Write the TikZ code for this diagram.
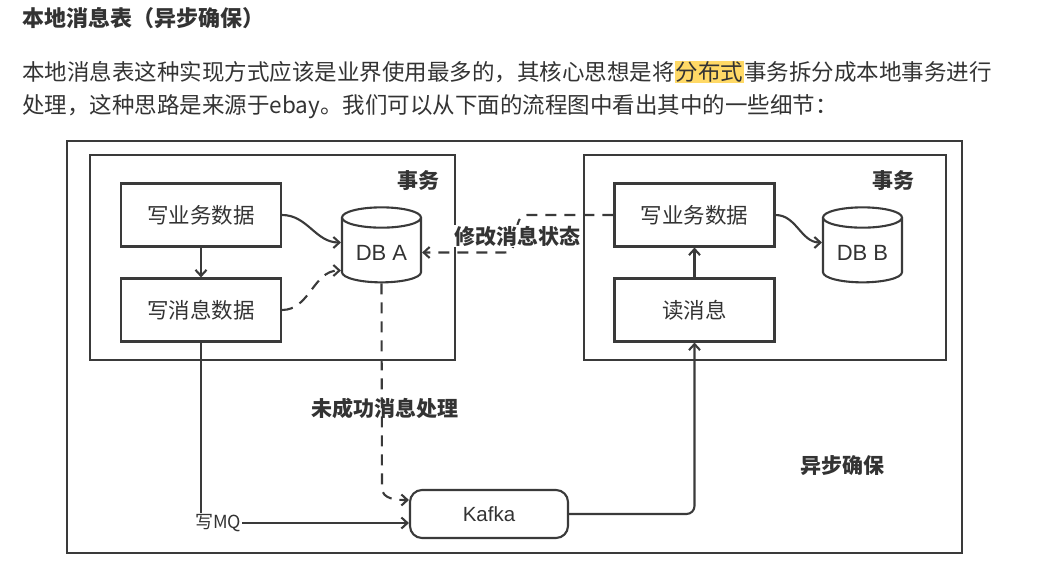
\documentclass[tikz,border=0pt]{standalone}
\usepackage{fontspec}
\setmainfont{Liberation Sans}
\newfontfamily\cjk{Noto Sans CJK SC}
\usetikzlibrary{shapes.geometric,arrows.meta}
\definecolor{inkgray}{HTML}{333333}
\definecolor{linegray}{HTML}{3A3A3A}
\definecolor{marker}{HTML}{FFD966}
\newlength{\TxLine}
\setlength{\TxLine}{2.1pt}
\tikzset{/tx/frame/.style={draw=linegray, line width=\TxLine}}
\tikzset{/tx/task/.style={
	shape=rectangle, draw=linegray, line width=\TxLine, minimum width=160pt, minimum height=63pt, text=inkgray, font=\cjk\fontsize{21.5}{21.5}\selectfont
}}
\tikzset{/tx/db/.style={
	shape=cylinder, shape border rotate=90, aspect=0.35, draw=linegray, line width=\TxLine, minimum width=79pt, minimum height=75pt, text=inkgray, font=\fontsize{22}{22}\selectfont
}}
\tikzset{/tx/queue/.style={
	shape=rectangle, rounded corners=12pt, draw=linegray, line width=\TxLine, minimum width=158pt, minimum height=48pt, text=inkgray, font=\fontsize{20.5}{20.5}\selectfont
}}
\tikzset{/tx/note/.style={text=inkgray, inner sep=1pt, font=\cjk\bfseries\fontsize{21}{21}\selectfont}}
\tikzset{/tx/flow/.style={draw=linegray, line width=\TxLine, -{Straight Barb[length=6pt,width=11pt]}}}
\tikzset{/tx/async/.style={/tx/flow, dash pattern=on 11pt off 8pt}}

\begin{document}
\begin{tikzpicture}[x=1pt, y=-1pt]
	\useasboundingbox (0,0) rectangle (1038,575);
	\path node[anchor=west, inner sep=0pt, text=inkgray, font=\cjk\bfseries\fontsize{22}{22}\selectfont] (title) at (22,18) {本地消息表（异步确保）};
	\path node[anchor=west, inner sep=0pt, text=inkgray, font=\cjk\fontsize{22.5}{22.5}\selectfont] (line1) at (22,72) {本地消息表这种实现方式应该是业界使用最多的，其核心思想是将{\fboxsep=1pt\colorbox{marker}{分布式}}事务拆分成本地事务进行};
	\path node[anchor=west, inner sep=0pt, text=inkgray, font=\cjk\fontsize{22.5}{22.5}\selectfont] (line2) at (22,107) {处理，这种思路是来源于ebay。我们可以从下面的流程图中看出其中的一些细节：};

	\draw[/tx/frame] (67,141) rectangle (962,553);
	\draw[/tx/frame] (90,155) rectangle (455,360);
	\draw[/tx/frame] (584,155) rectangle (946,360);
	\path node[/tx/note] (txA) at (418,181) {事务};
	\path node[/tx/note] (txB) at (893,181) {事务};

	\path node[/tx/task] (bizA) at (201,215) {写业务数据};
	\path node[/tx/task] (msgA) at (201,310) {写消息数据};
	\path node[/tx/db] (dbA) at (381.5,252.5) {DB A};
	\path node[/tx/task] (bizB) at (694.5,215) {写业务数据};
	\path node[/tx/task] (readB) at (694.5,310) {读消息};
	\path node[/tx/db] (dbB) at (862.5,252.5) {DB B};
	\path node[/tx/queue] (kafka) at (489,514) {Kafka};
	\path node[inner sep=1pt, text=inkgray, font=\cjk\fontsize{18}{18}\selectfont] (mq) at (218,523) {写MQ};
	\coordinate (bend) at (505,252.5);

	\draw[/tx/flow] (bizA) -- (msgA);
	\draw[/tx/flow] (bizA.east) to[out=0, in=180] ([yshift=10pt]dbA.west);
	\draw[/tx/async] (msgA.east) to[out=0, in=180] ([yshift=-18pt]dbA.west);
	\draw[/tx/async] (bizB.west) -- (527,215) to[out=180, in=0] (bend) -- (dbA.east);
	\draw[/tx/async] (dbA.south) -- (382,488) to[out=270, in=180] ([yshift=14pt]kafka.west);
	\draw[draw=linegray, line width=\TxLine] (msgA.south) -- (msgA.south |- mq.north);
	\draw[/tx/flow] (mq.east) -- (mq.east -| kafka.west);
	\draw[/tx/flow, rounded corners=8pt] (kafka.east) -| (readB.south);
	\draw[/tx/flow] (readB) -- (bizB);
	\draw[/tx/flow] (bizB.east) to[out=0, in=180] ([yshift=10pt]dbB.west);

	\path node[/tx/note, fill=white] (status) at (517,236) {修改消息状态};
	\path node[/tx/note] (retry) at (385,408) {未成功消息处理};
	\path node[/tx/note] (async) at (842,466) {异步确保};
\end{tikzpicture}
\end{document}
